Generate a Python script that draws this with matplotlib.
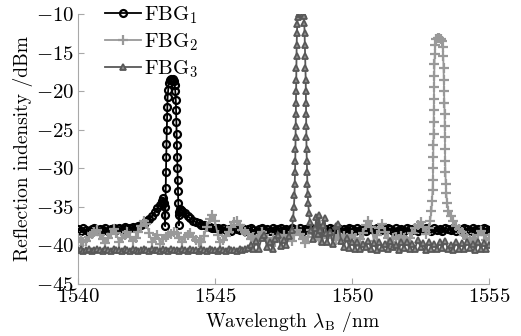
import matplotlib
matplotlib.use("Agg")
import matplotlib.pyplot as plt

# ---------------- data ----------------
# FBG1 (black, circles)
wl1 = [1540.0, 1540.1, 1540.2, 1540.3, 1540.4, 1540.5, 1540.6, 1540.7, 1540.8, 1540.9,
       1541.0, 1541.1, 1541.2, 1541.3, 1541.4, 1541.5, 1541.6, 1541.7, 1541.8, 1541.9,
       1542.0, 1542.1, 1542.2, 1542.3, 1542.4, 1542.5, 1542.6, 1542.7, 1542.8, 1542.9,
       1543.0, 1543.05, 1543.1, 1543.13, 1543.16, 1543.18, 1543.19, 1543.2, 1543.21, 1543.22,
       1543.23, 1543.24, 1543.25, 1543.26, 1543.27, 1543.29, 1543.31, 1543.34, 1543.38, 1543.42,
       1543.46, 1543.5, 1543.53, 1543.55, 1543.57, 1543.58, 1543.59, 1543.6, 1543.61, 1543.62,
       1543.63, 1543.64, 1543.65, 1543.66, 1543.67, 1543.68, 1543.7, 1543.73, 1543.77, 1543.8,
       1543.9, 1544.0, 1544.1, 1544.2, 1544.3, 1544.4, 1544.5, 1544.6, 1544.7, 1544.8,
       1544.9, 1545.0, 1545.1, 1545.2, 1545.3, 1545.4, 1545.5, 1545.6, 1545.7, 1545.8,
       1545.9, 1546.0, 1546.1, 1546.2, 1546.3, 1546.4, 1546.5, 1546.6, 1546.7, 1546.8,
       1546.9, 1547.0, 1547.1, 1547.2, 1547.3, 1547.4, 1547.5, 1547.6, 1547.7, 1547.8,
       1547.9, 1548.0, 1548.1, 1548.2, 1548.3, 1548.4, 1548.5, 1548.6, 1548.7, 1548.8,
       1548.9, 1549.0, 1549.1, 1549.2, 1549.3, 1549.4, 1549.5, 1549.6, 1549.7, 1549.8,
       1549.9, 1550.0, 1550.1, 1550.2, 1550.3, 1550.4, 1550.5, 1550.6, 1550.7, 1550.8,
       1550.9, 1551.0, 1551.1, 1551.2, 1551.3, 1551.4, 1551.5, 1551.6, 1551.7, 1551.8,
       1551.9, 1552.0, 1552.1, 1552.2, 1552.3, 1552.4, 1552.5, 1552.6, 1552.7, 1552.8,
       1552.9, 1553.0, 1553.1, 1553.2, 1553.3, 1553.4, 1553.5, 1553.6, 1553.7, 1553.8,
       1553.9, 1554.0, 1554.1, 1554.2, 1554.3, 1554.4, 1554.5, 1554.6, 1554.7, 1554.8,
       1554.9, 1555.0]
fbg1 = [-37.9, -38.1, -37.8, -38.0, -38.2, -37.9, -37.8, -38.1, -37.9, -38.0,
        -37.8, -38.1, -37.9, -37.7, -38.0, -37.8, -37.9, -37.6, -37.8, -37.7,
        -37.6, -37.8, -37.5, -37.4, -37.2, -36.9, -36.6, -36.2, -35.7, -35.2,
        -34.7, -34.2, -33.8, -34.5, -36.0, -37.5, -35.0, -32.5, -30.5, -28.5,
        -26.8, -25.0, -23.4, -22.0, -20.8, -19.8, -19.0, -18.6, -18.4, -18.5,
        -18.4, -18.7, -19.2, -20.0, -21.2, -22.5, -24.0, -25.5, -27.0, -28.5,
        -30.0, -31.5, -33.0, -34.5, -36.0, -37.4, -35.7, -35.3, -35.4, -35.5,
        -35.8, -36.2, -36.5, -36.8, -37.0, -37.1, -37.3, -37.4, -37.5, -37.6,
        -37.7, -37.7, -37.8, -37.9, -37.8, -38.0, -37.9, -38.1, -37.8, -37.9,
        -38.0, -37.8, -38.1, -37.9, -37.8, -38.0, -38.2, -37.9, -37.8, -38.0,
        -37.9, -38.1, -37.8, -38.0, -37.9, -37.7, -38.0, -37.9, -38.1, -37.8,
        -37.9, -38.0, -37.8, -38.1, -37.9, -38.0, -37.8, -37.9, -38.1, -37.8,
        -38.0, -37.9, -38.1, -37.8, -37.9, -38.0, -37.8, -38.1, -37.9, -38.0,
        -37.8, -37.9, -38.1, -37.8, -38.0, -37.9, -38.1, -37.8, -37.9, -38.0,
        -37.8, -38.1, -37.9, -38.0, -37.8, -37.9, -38.1, -37.8, -38.0, -37.9,
        -38.1, -37.8, -37.9, -38.0, -37.8, -38.1, -37.9, -38.0, -37.8, -37.9,
        -38.1, -37.8, -38.0, -37.9, -38.1, -37.8, -37.9, -38.0, -37.8, -38.1,
        -37.9, -38.0, -37.8, -37.9, -38.1, -37.8, -38.0, -37.9, -38.1, -37.8,
        -37.9, -38.0]

# FBG2 (light grey, plus)
wl2 = [1540.0, 1540.1, 1540.2, 1540.3, 1540.4, 1540.5, 1540.6, 1540.7, 1540.8, 1540.9,
       1541.0, 1541.1, 1541.2, 1541.3, 1541.4, 1541.5, 1541.6, 1541.7, 1541.8, 1541.9,
       1542.0, 1542.1, 1542.2, 1542.3, 1542.4, 1542.5, 1542.6, 1542.7, 1542.8, 1542.9,
       1543.0, 1543.1, 1543.2, 1543.3, 1543.4, 1543.5, 1543.6, 1543.7, 1543.8, 1543.9,
       1544.0, 1544.1, 1544.2, 1544.3, 1544.4, 1544.5, 1544.6, 1544.7, 1544.8, 1544.9,
       1545.0, 1545.1, 1545.2, 1545.3, 1545.4, 1545.5, 1545.6, 1545.7, 1545.8, 1545.9,
       1546.0, 1546.1, 1546.2, 1546.3, 1546.4, 1546.5, 1546.6, 1546.7, 1546.8, 1546.9,
       1547.0, 1547.1, 1547.2, 1547.3, 1547.4, 1547.5, 1547.6, 1547.7, 1547.8, 1547.9,
       1548.0, 1548.1, 1548.2, 1548.3, 1548.4, 1548.5, 1548.6, 1548.7, 1548.8, 1548.9,
       1549.0, 1549.1, 1549.2, 1549.3, 1549.4, 1549.5, 1549.6, 1549.7, 1549.8, 1549.9,
       1550.0, 1550.1, 1550.2, 1550.3, 1550.4, 1550.5, 1550.6, 1550.7, 1550.8, 1550.9,
       1551.0, 1551.1, 1551.2, 1551.3, 1551.4, 1551.5, 1551.6, 1551.7, 1551.8, 1551.9,
       1552.0, 1552.1, 1552.2, 1552.3, 1552.4, 1552.5, 1552.6, 1552.7, 1552.8, 1552.85,
       1552.9, 1552.92, 1552.94, 1552.95, 1552.96, 1552.965, 1552.97, 1552.975, 1552.98, 1552.985,
       1552.99, 1552.995, 1553.0, 1553.01, 1553.02, 1553.04, 1553.08, 1553.13, 1553.18, 1553.23,
       1553.28, 1553.31, 1553.33, 1553.34, 1553.35, 1553.36, 1553.37, 1553.38, 1553.385, 1553.39,
       1553.395, 1553.4, 1553.41, 1553.42, 1553.44, 1553.47, 1553.52, 1553.6, 1553.7, 1553.8,
       1553.9, 1554.0, 1554.1, 1554.2, 1554.3, 1554.4, 1554.5, 1554.6, 1554.7, 1554.8,
       1554.9, 1555.0]
fbg2 = [-39.0, -39.3, -39.6, -39.4, -38.9, -38.5, -38.2, -38.0, -38.6, -39.2,
        -39.7, -39.0, -38.5, -37.9, -38.4, -39.6, -39.0, -38.6, -38.3, -38.9,
        -39.4, -39.0, -38.2, -37.5, -36.9, -37.2, -38.4, -39.6, -39.1, -38.6,
        -39.8, -39.2, -38.9, -38.6, -38.5, -38.3, -38.4, -39.0, -39.5, -38.9,
        -38.6, -38.4, -38.9, -39.3, -39.6, -39.5, -38.8, -37.6, -36.6, -36.0,
        -36.9, -38.6, -39.6, -39.3, -38.8, -38.3, -37.6, -37.0, -36.8, -37.4,
        -38.0, -38.3, -38.5, -39.2, -38.9, -39.4, -38.8, -38.3, -38.7, -39.2,
        -39.5, -39.1, -39.5, -38.9, -39.4, -38.6, -39.2, -38.8, -39.4, -38.7,
        -38.0, -38.5, -39.2, -39.7, -38.9, -38.0, -38.3, -38.9, -39.3, -38.8,
        -38.5, -39.1, -38.5, -38.9, -39.3, -38.7, -39.3, -38.8, -39.0, -39.4,
        -38.6, -39.1, -39.5, -39.2, -38.4, -37.4, -36.8, -37.6, -39.4, -38.6,
        -37.8, -37.2, -38.2, -39.0, -39.5, -39.1, -38.9, -39.2, -38.8, -39.1,
        -39.4, -39.0, -38.4, -37.8, -37.3, -37.0, -37.6, -38.5, -37.8, -36.8,
        -35.5, -34.2, -32.8, -31.5, -30.0, -28.5, -27.0, -25.5, -24.0, -22.5,
        -21.0, -19.5, -18.0, -16.5, -15.2, -14.0, -13.3, -13.1, -13.1, -13.2,
        -13.5, -14.3, -15.5, -17.0, -18.5, -20.0, -21.5, -23.0, -24.5, -26.0,
        -27.5, -29.0, -30.5, -32.0, -33.2, -34.5, -35.5, -36.2, -36.9, -37.5,
        -37.9, -38.2, -38.6, -39.0, -39.3, -39.0, -39.4, -38.7, -38.1, -38.6,
        -39.3, -39.0]

# FBG3 (dark grey, triangles)
wl3 = [1540.0, 1540.1, 1540.2, 1540.3, 1540.4, 1540.5, 1540.6, 1540.7, 1540.8, 1540.9,
       1541.0, 1541.1, 1541.2, 1541.3, 1541.4, 1541.5, 1541.6, 1541.7, 1541.8, 1541.9,
       1542.0, 1542.1, 1542.2, 1542.3, 1542.4, 1542.5, 1542.6, 1542.7, 1542.8, 1542.9,
       1543.0, 1543.1, 1543.2, 1543.3, 1543.4, 1543.5, 1543.6, 1543.7, 1543.8, 1543.9,
       1544.0, 1544.1, 1544.2, 1544.3, 1544.4, 1544.5, 1544.6, 1544.7, 1544.8, 1544.9,
       1545.0, 1545.1, 1545.2, 1545.3, 1545.4, 1545.5, 1545.6, 1545.7, 1545.8, 1545.9,
       1546.0, 1546.1, 1546.2, 1546.3, 1546.4, 1546.5, 1546.6, 1546.7, 1546.8, 1546.9,
       1547.0, 1547.1, 1547.2, 1547.3, 1547.4, 1547.5, 1547.6, 1547.7, 1547.8, 1547.85,
       1547.88, 1547.9, 1547.91, 1547.92, 1547.93, 1547.935, 1547.94, 1547.945, 1547.95, 1547.955,
       1547.96, 1547.965, 1547.97, 1547.975, 1547.98, 1547.99, 1548.0, 1548.02, 1548.06, 1548.1,
       1548.15, 1548.2, 1548.24, 1548.26, 1548.27, 1548.28, 1548.29, 1548.3, 1548.31, 1548.315,
       1548.32, 1548.325, 1548.33, 1548.335, 1548.34, 1548.35, 1548.36, 1548.37, 1548.38, 1548.4,
       1548.43, 1548.47, 1548.52, 1548.58, 1548.65, 1548.7, 1548.75, 1548.8, 1548.85, 1548.9,
       1548.95, 1549.0, 1549.05, 1549.1, 1549.2, 1549.3, 1549.4, 1549.5, 1549.6, 1549.7,
       1549.8, 1549.9, 1550.0, 1550.1, 1550.2, 1550.3, 1550.4, 1550.5, 1550.6, 1550.7,
       1550.8, 1550.9, 1551.0, 1551.1, 1551.2, 1551.3, 1551.4, 1551.5, 1551.6, 1551.7,
       1551.8, 1551.9, 1552.0, 1552.1, 1552.2, 1552.3, 1552.4, 1552.5, 1552.6, 1552.7,
       1552.8, 1552.9, 1553.0, 1553.1, 1553.2, 1553.3, 1553.4, 1553.5, 1553.6, 1553.7,
       1553.8, 1553.9, 1554.0, 1554.1, 1554.2, 1554.3, 1554.4, 1554.5, 1554.6, 1554.7,
       1554.8, 1554.9, 1555.0]
fbg3 = [-40.6, -40.5, -40.7, -40.6, -40.5, -40.7, -40.6, -40.5, -40.6, -40.7,
        -40.5, -40.6, -40.7, -40.5, -40.6, -40.6, -40.7, -40.5, -40.6, -40.7,
        -40.5, -40.6, -40.7, -40.6, -40.5, -40.6, -40.7, -40.5, -40.6, -40.6,
        -40.7, -40.5, -40.6, -40.7, -40.5, -40.6, -40.6, -40.7, -40.5, -40.6,
        -40.7, -40.5, -40.6, -40.6, -40.7, -40.5, -40.6, -40.7, -40.5, -40.6,
        -40.6, -40.7, -40.5, -40.6, -40.7, -40.5, -40.6, -40.6, -40.7, -40.5,
        -40.6, -40.5, -40.3, -40.0, -40.5, -39.4, -40.4, -39.0, -38.6, -40.2,
        -39.6, -40.4, -39.2, -38.7, -40.1, -39.3, -40.0, -38.8, -38.0, -36.5,
        -35.0, -33.5, -32.0, -30.5, -29.0, -27.5, -26.0, -24.5, -23.0, -21.5,
        -20.0, -18.5, -17.0, -15.5, -14.0, -12.5, -11.3, -10.4, -10.0, -9.9,
        -9.9, -10.0, -10.3, -11.2, -12.5, -14.0, -15.5, -17.0, -18.5, -20.0,
        -21.5, -23.0, -24.5, -26.0, -27.5, -29.0, -30.5, -32.0, -33.3, -34.5,
        -35.8, -37.0, -38.0, -39.2, -37.8, -36.3, -38.5, -36.0, -38.0, -39.5,
        -37.3, -36.5, -38.4, -39.6, -38.2, -39.8, -37.5, -37.2, -39.4, -40.2,
        -39.0, -40.3, -39.5, -40.4, -39.6, -40.5, -39.8, -40.2, -39.4, -40.4,
        -39.7, -40.6, -39.5, -40.3, -39.8, -40.5, -39.4, -40.2, -39.9, -40.6,
        -39.6, -40.3, -39.5, -40.5, -39.8, -40.4, -39.3, -40.2, -39.7, -40.6,
        -39.5, -40.4, -39.8, -40.5, -39.6, -40.3, -39.4, -40.5, -39.9, -40.6,
        -39.6, -40.4, -39.7, -40.5, -39.5, -40.3, -39.8, -40.6, -39.6, -40.4,
        -39.7, -40.5, -40.0]

labels = [r"FBG$_1$", r"FBG$_2$", r"FBG$_3$"]
xticks = [1540, 1545, 1550, 1555]
yticks = [-45, -40, -35, -30, -25, -20, -15, -10]

# ---------------- style ----------------
plt.rcParams["font.family"] = ["cmr10", "DejaVu Serif"]
plt.rcParams["mathtext.fontset"] = "cm"
plt.rcParams["axes.formatter.use_mathtext"] = True

fig = plt.figure(figsize=(5.21, 3.36), dpi=100)
ax = fig.add_axes([0.1497, 0.1548, 0.7889, 0.8036])

ax.plot(wl1, fbg1, color="black", lw=1.3, marker="o", ms=5, mfc="none",
        mec="black", mew=1.6, label=labels[0], zorder=3)
ax.plot(wl2, fbg2, color="#999999", lw=1.3, marker="+", ms=7, mew=1.6,
        mec="#999999", label=labels[1], zorder=4)
ax.plot(wl3, fbg3, color="#585858", lw=1.3, marker="^", ms=5, mfc="#8c8c8c",
        mec="#585858", mew=1.3, label=labels[2], zorder=5)

ax.set_xlim(1540, 1555)
ax.set_ylim(-45, -10)
ax.set_xticks(xticks)
ax.set_yticks(yticks)

for s in ["top", "right"]:
    ax.spines[s].set_visible(False)
for s in ["left", "bottom"]:
    ax.spines[s].set_color("#a8a8a8")
    ax.spines[s].set_linewidth(0.8)
ax.tick_params(direction="in", length=4, width=0.8, color="#a8a8a8",
               labelsize=15, pad=3)

ax.set_xlabel(r"Wavelength $\lambda_\mathrm{B}$ /nm", fontsize=14, labelpad=1)
ax.xaxis.set_label_coords(0.523, -0.095, transform=ax.transAxes)
ax.xaxis.label.set_va("top")
ax.set_ylabel("Reflection indensity /dBm", fontsize=14, labelpad=2)

leg = ax.legend(loc="upper left", bbox_to_anchor=(0.066, 1.035), frameon=False,
                handlelength=1.7, handletextpad=0.15, labelspacing=0.25,
                borderaxespad=0, borderpad=0, fontsize=15)

fig.savefig("out.png", dpi=100, facecolor="white")
